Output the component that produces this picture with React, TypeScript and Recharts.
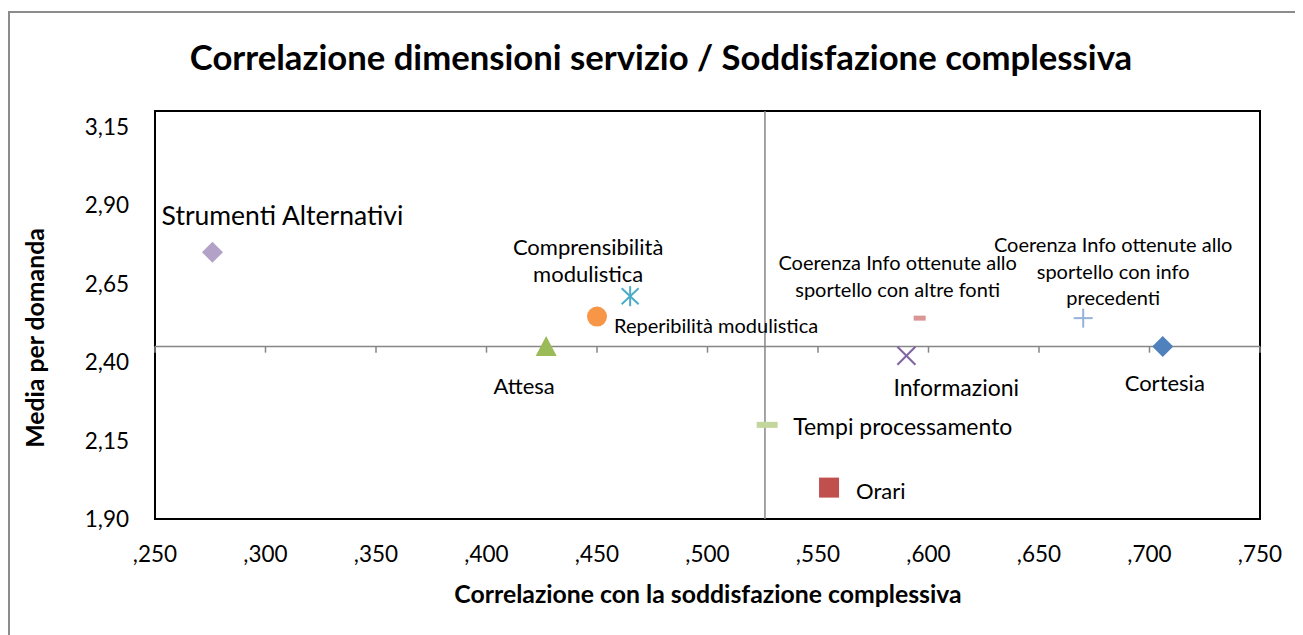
import React from "react";
import { ReferenceArea, ReferenceLine, Scatter, ScatterChart, XAxis, YAxis } from "recharts";

const FONT = "Lato, 'Open Sans', sans-serif";

// one point per service dimension
const dimensions = [
  "Cortesia",
  "Orari",
  "Attesa",
  "Informazioni",
  "Comprensibilità modulistica",
  "Reperibilità modulistica",
  "Coerenza Info ottenute allo sportello con info precedenti",
  "Coerenza Info ottenute allo sportello con altre fonti",
  "Tempi processamento",
  "Strumenti Alternativi",
];
const correlation = [0.706, 0.555, 0.427, 0.59, 0.465, 0.45, 0.67, 0.596, 0.527, 0.276];
const meanScore = [2.45, 2.0, 2.45, 2.42, 2.61, 2.545, 2.54, 2.54, 2.2, 2.75];

const xTicks = [0.25, 0.3, 0.35, 0.4, 0.45, 0.5, 0.55, 0.6, 0.65, 0.7, 0.75];
const yTicks = [1.9, 2.15, 2.4, 2.65, 2.9, 3.15];

// axes cross at the averages
const crossX = 0.526;
const crossY = 2.45;

type Look = {
  kind: string;
  color: string;
  lines: string[];
  anchor: "start" | "middle" | "end";
  dx: number;
  dy: number;
  fontSize: number;
  lineHeight?: number;
};

const looks: Look[] = [
  { kind: "diamond", color: "#4F81BD", lines: ["Cortesia"], anchor: "middle", dx: 2, dy: 36, fontSize: 22 },
  { kind: "square", color: "#C0504D", lines: ["Orari"], anchor: "start", dx: 27, dy: 2, fontSize: 22 },
  { kind: "triangle", color: "#9BBB59", lines: ["Attesa"], anchor: "middle", dx: -22, dy: 39, fontSize: 22 },
  { kind: "xmark", color: "#8064A2", lines: ["Informazioni"], anchor: "start", dx: -13, dy: 31, fontSize: 23 },
  {
    kind: "asterisk",
    color: "#4BACC6",
    lines: ["Comprensibilità", "modulistica"],
    anchor: "middle",
    dx: -42,
    dy: -50,
    fontSize: 22,
    lineHeight: 27,
  },
  { kind: "circle", color: "#F79646", lines: ["Reperibilità modulistica"], anchor: "start", dx: 17, dy: 8, fontSize: 20 },
  {
    kind: "plus",
    color: "#95B3D7",
    lines: ["Coerenza Info ottenute allo", "sportello con info", "precedenti"],
    anchor: "middle",
    dx: 30,
    dy: -74,
    fontSize: 20,
    lineHeight: 26.5,
  },
  {
    kind: "smalldash",
    color: "#D99694",
    lines: ["Coerenza Info ottenute allo", "sportello con altre fonti"],
    anchor: "middle",
    dx: -22,
    dy: -56,
    fontSize: 20,
    lineHeight: 27,
  },
  { kind: "dash", color: "#C3D69B", lines: ["Tempi processamento"], anchor: "start", dx: 26, dy: 1, fontSize: 23 },
  { kind: "diamond", color: "#B3A2C7", lines: ["Strumenti Alternativi"], anchor: "middle", dx: 70, dy: -37, fontSize: 26.5 },
];

const series = dimensions.map((name, i) => ({
  name,
  data: [{ x: correlation[i], y: meanScore[i] }],
}));

function drawMarker(kind: string, color: string, cx: number, cy: number) {
  switch (kind) {
    case "diamond":
      return <polygon points={`${cx},${cy - 10.5} ${cx + 10.5},${cy} ${cx},${cy + 10.5} ${cx - 10.5},${cy}`} fill={color} />;
    case "square":
      return <rect x={cx - 10} y={cy - 10} width={20} height={20} fill={color} />;
    case "triangle":
      return <polygon points={`${cx},${cy - 10.5} ${cx + 10.5},${cy + 9.5} ${cx - 10.5},${cy + 9.5}`} fill={color} />;
    case "circle":
      return <circle cx={cx} cy={cy} r={10} fill={color} />;
    case "xmark":
      return (
        <g stroke={color} strokeWidth={2}>
          <line x1={cx - 9} y1={cy - 9} x2={cx + 9} y2={cy + 9} />
          <line x1={cx - 9} y1={cy + 9} x2={cx + 9} y2={cy - 9} />
        </g>
      );
    case "plus":
      return (
        <g stroke={color} strokeWidth={2}>
          <line x1={cx - 9.5} y1={cy} x2={cx + 9.5} y2={cy} />
          <line x1={cx} y1={cy - 9.5} x2={cx} y2={cy + 9.5} />
        </g>
      );
    case "asterisk":
      return (
        <g stroke={color} strokeWidth={2}>
          <line x1={cx - 8.5} y1={cy - 8} x2={cx + 8.5} y2={cy + 8} />
          <line x1={cx - 8.5} y1={cy + 8} x2={cx + 8.5} y2={cy - 8} />
          <line x1={cx} y1={cy - 10} x2={cx} y2={cy + 10} />
        </g>
      );
    case "smalldash":
      return <rect x={cx - 6} y={cy - 2.5} width={12} height={5} fill={color} />;
    case "dash":
      return <rect x={cx - 10.5} y={cy - 3} width={21} height={6} fill={color} />;
    default:
      return null;
  }
}

function makeShape(look: Look) {
  return (props: any) => {
    const { cx, cy } = props;
    const lh = look.lineHeight ?? look.fontSize * 1.2;
    return (
      <g>
        {drawMarker(look.kind, look.color, cx, cy)}
        <text
          x={cx + look.dx}
          y={cy + look.dy}
          textAnchor={look.anchor}
          dominantBaseline="central"
          fontFamily={FONT}
          fontSize={look.fontSize}
          fill="#000"
        >
          {look.lines.map((line, i) => (
            <tspan key={i} x={cx + look.dx} dy={i === 0 ? 0 : lh}>
              {line}
            </tspan>
          ))}
        </text>
      </g>
    );
  };
}

const fmtX = (v: number) => "," + String(Math.round(v * 1000)).padStart(3, "0");
const fmtY = (v: number) => v.toFixed(2).replace(".", ",");

const tickStyle = { fontFamily: FONT, fontSize: 22.5, fill: "#000" };

export default function App() {
  return (
    <div style={{ position: "relative", width: 1295, height: 627, overflow: "hidden", background: "#fff" }}>
      <div
        style={{
          position: "absolute",
          left: 0,
          top: 3,
          width: 1400,
          height: 800,
          border: "2px solid #8c8c8c",
          boxSizing: "border-box",
        }}
      />
      <div
        style={{
          position: "absolute",
          left: 653,
          top: 49,
          transform: "translate(-50%, -50%)",
          whiteSpace: "nowrap",
          fontFamily: FONT,
          fontWeight: 700,
          fontSize: 34.7,
          lineHeight: 1,
        }}
      >
        Correlazione dimensioni servizio / Soddisfazione complessiva
      </div>
      <div
        style={{
          position: "absolute",
          left: 700,
          top: 586,
          transform: "translate(-50%, -50%)",
          whiteSpace: "nowrap",
          fontFamily: FONT,
          fontWeight: 700,
          fontSize: 24.8,
          lineHeight: 1,
        }}
      >
        Correlazione con la soddisfazione complessiva
      </div>
      <div
        style={{
          position: "absolute",
          left: 27,
          top: 330,
          transform: "translate(-50%, -50%) rotate(-90deg)",
          whiteSpace: "nowrap",
          fontFamily: FONT,
          fontWeight: 700,
          fontSize: 24.8,
          lineHeight: 1,
        }}
      >
        Media per domanda
      </div>
      <div style={{ position: "absolute", left: 0, top: 0 }}>
        <ScatterChart width={1295} height={627} margin={{ top: 103, right: 43, left: 87, bottom: 56 }}>
          <XAxis
            type="number"
            dataKey="x"
            domain={[0.25, 0.75]}
            ticks={xTicks}
            interval={0}
            tickFormatter={fmtX}
            axisLine={false}
            tickLine={false}
            tickSize={0}
            tickMargin={27}
            height={60}
            tick={tickStyle}
            allowDataOverflow
          />
          <YAxis
            type="number"
            dataKey="y"
            domain={[1.9, 3.2]}
            ticks={yTicks}
            interval={0}
            tickFormatter={fmtY}
            axisLine={false}
            tickLine={false}
            tickSize={0}
            tickMargin={26}
            width={60}
            tick={tickStyle}
            allowDataOverflow
          />
          <ReferenceLine x={crossX} stroke="#868686" strokeWidth={1.5} />
          <ReferenceLine y={crossY} stroke="#868686" strokeWidth={1.5} />
          {xTicks.map((t) => (
            <ReferenceLine
              key={t}
              segment={[
                { x: t, y: crossY },
                { x: t, y: crossY - 0.02 },
              ]}
              stroke="#868686"
              strokeWidth={1.5}
            />
          ))}
          <ReferenceArea x1={0.25} x2={0.75} y1={1.9} y2={3.2} fill="none" stroke="#000" strokeWidth={2} />
          {series.map((s, i) => (
            <Scatter key={s.name} name={s.name} data={s.data} shape={makeShape(looks[i])} isAnimationActive={false} />
          ))}
        </ScatterChart>
      </div>
    </div>
  );
}
